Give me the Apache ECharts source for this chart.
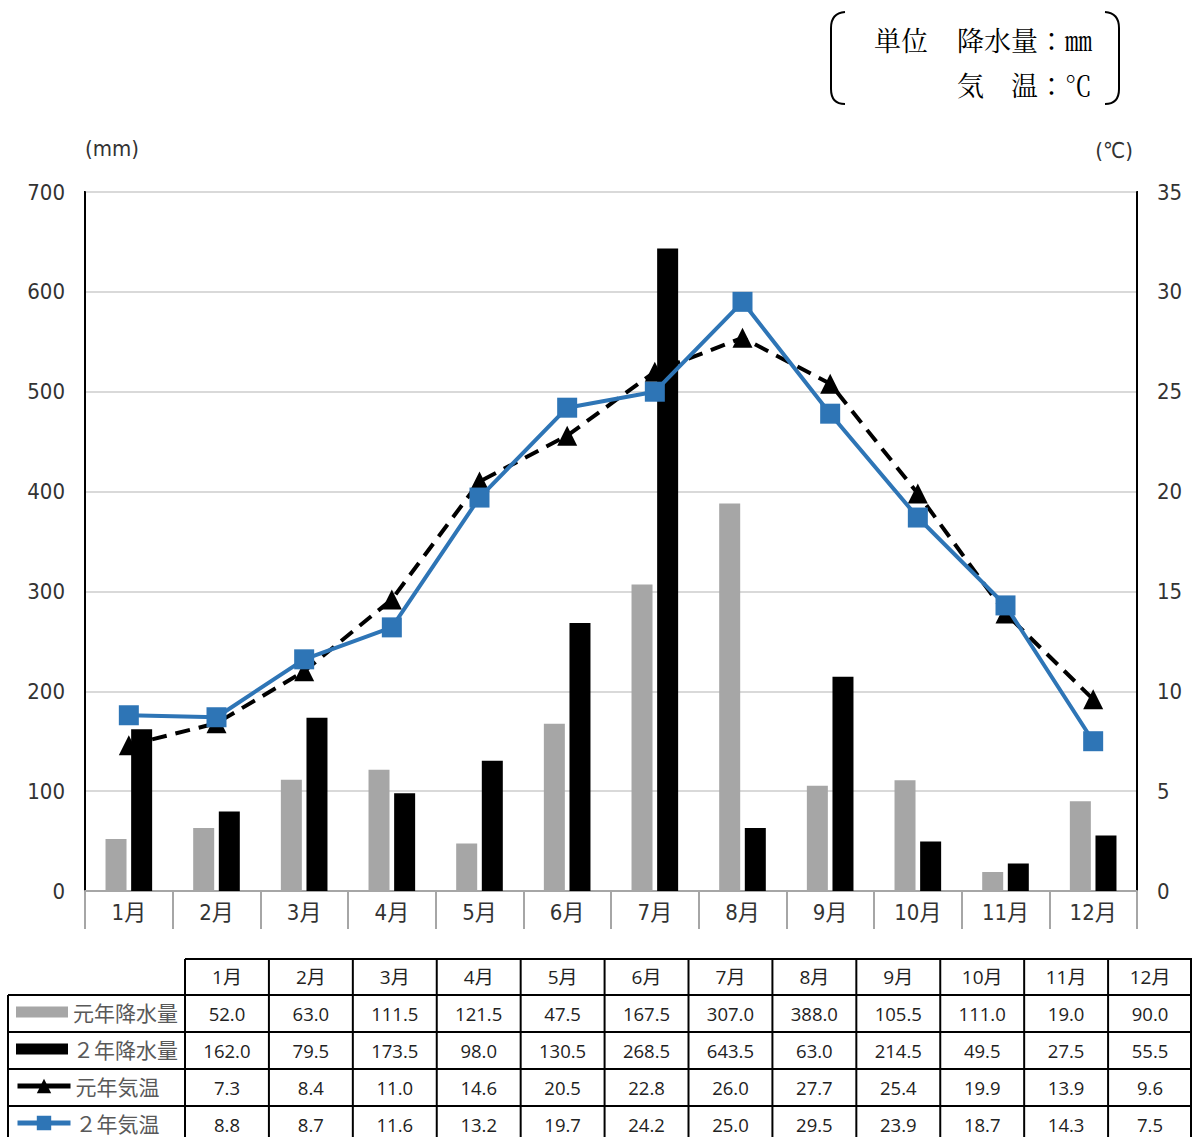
<!DOCTYPE html>
<html>
<head>
<meta charset="utf-8">
<script src="https://cdn.jsdelivr.net/npm/echarts@6/dist/echarts.min.js"></script>
<style>
html,body{margin:0;padding:0;background:#fff;}
#chart{width:1192px;height:1137px;}
</style>
</head>
<body>
<div id="chart"></div>
<script>
const months = ['1月','2月','3月','4月','5月','6月','7月','8月','9月','10月','11月','12月'];
const rain1 = [52.0,63.0,111.5,121.5,47.5,167.5,307.0,388.0,105.5,111.0,19.0,90.0];
const rain2 = [162.0,79.5,173.5,98.0,130.5,268.5,643.5,63.0,214.5,49.5,27.5,55.5];
const temp1 = [7.3,8.4,11.0,14.6,20.5,22.8,26.0,27.7,25.4,19.9,13.9,9.6];
const temp2 = [8.8,8.7,11.6,13.2,19.7,24.2,25.0,29.5,23.9,18.7,14.3,7.5];
const seriesNames = ['元年降水量','２年降水量','元年気温','２年気温'];
const leftAxisName = '(mm)';
const rightAxisName = '(℃)';

const narrow = "'Liberation Sans Narrow','DejaVu Sans Condensed','Noto Sans CJK JP',sans-serif";
const tableFont = "'Open Sans','Noto Sans CJK JP',sans-serif";
const cjk = "'Noto Sans CJK JP',sans-serif";
const serif = "'Noto Serif CJK JP','Noto Sans CJK JP',serif";

// table graphic
const tblLeft = 185, tblRight = 1192, labelLeft = 8;
const cw = (tblRight - tblLeft) / months.length;
const rowY = [959, 995, 1032, 1069, 1106, 1142];
const graphics = [];
function seg(x1,y1,x2,y2){graphics.push({type:'line',silent:true,shape:{x1:x1,y1:y1,x2:x2,y2:y2},style:{stroke:'#000',lineWidth:2}});}
function curve(x1,y1,cx,cy,x2,y2){graphics.push({type:'bezierCurve',silent:true,shape:{x1:x1,y1:y1,cpx1:cx,cpy1:cy,x2:x2,y2:y2},style:{stroke:'#000',lineWidth:2,fill:null}});}
seg(tblLeft, rowY[0], tblRight, rowY[0]);
for (let r = 1; r < rowY.length; r++) seg(labelLeft, rowY[r], tblRight, rowY[r]);
seg(labelLeft, rowY[1], labelLeft, rowY[5]);
for (let i = 0; i <= months.length; i++) {
  const x = Math.min(tblLeft + i * cw, 1191);
  seg(x, rowY[0], x, rowY[5]);
}
function cellText(txt, cx, cy, fs){
  graphics.push({type:'text',silent:true,style:{text:txt,x:cx,y:cy,align:'center',verticalAlign:'middle',fontSize:fs,fontFamily:tableFont,fill:'#222'}});
}
const rows = [rain1, rain2, temp1, temp2];
months.forEach((m,i)=>{
  const cx = tblLeft + (i + 0.5) * cw;
  cellText(m, cx, (rowY[0]+rowY[1])/2, 19);
  rows.forEach((arr,r)=>{
    cellText(arr[i].toFixed(1), cx, (rowY[r+1]+rowY[r+2])/2, 18.5);
  });
});
// unit box brackets
curve(845,12,831,13,831,28); seg(831,28,831,89); curve(831,89,831,104,845,104);
curve(1105,12,1119,13,1119,28); seg(1119,28,1119,89); curve(1119,89,1119,104,1105,104);
function unitText(txt,x,y){graphics.push({type:'text',silent:true,style:{text:txt,x:x,y:y,align:'left',verticalAlign:'middle',fontSize:27,fontFamily:serif,fill:'#000'}});}
unitText('単位', 874, 39);
unitText('降水量：㎜', 957, 39);
unitText('気　温：℃', 957, 84);

const legendText = {fontSize:21,lineHeight:22,fontFamily:cjk,color:'#595959'};
const chart = echarts.init(document.getElementById('chart'), null, {renderer:'svg'});
chart.setOption({
  animation:false,
  backgroundColor:'#fff',
  grid:{left:85,right:55,top:192,bottom:246,show:true,borderColor:'#000',borderWidth:2,containLabel:false},
  legend:[
    {data:[{name:seriesNames[0],icon:'rect'},{name:seriesNames[1],icon:'rect'}],orient:'vertical',left:16,top:1001,height:70,padding:0,
     itemWidth:52,itemHeight:11,itemGap:15,selectedMode:false,textStyle:legendText},
    {data:[seriesNames[2],seriesNames[3]],orient:'vertical',left:15,top:1075,height:70,padding:0,
     itemWidth:53,itemHeight:18,itemGap:15,selectedMode:false,textStyle:legendText,
     lineStyle:{type:'solid',width:5}}
  ],
  xAxis:{type:'category',data:months,boundaryGap:true,
    axisLine:{show:true,lineStyle:{color:'#a6a6a6',width:2}},
    axisTick:{show:true,interval:0,length:38,lineStyle:{color:'#a6a6a6',width:2}},
    axisLabel:{interval:0,margin:10,fontSize:22,fontFamily:narrow,color:'#333'},
    splitLine:{show:false}},
  yAxis:[
    {type:'value',min:0,max:700,interval:100,position:'left',
     name:leftAxisName,nameLocation:'end',nameGap:44,
     nameTextStyle:{align:'left',verticalAlign:'middle',fontSize:22,fontFamily:narrow,color:'#333'},
     axisLine:{show:true,lineStyle:{color:'#000',width:2}},axisTick:{show:false},
     axisLabel:{margin:20,fontSize:22,fontFamily:narrow,color:'#333'},
     splitLine:{show:true,lineStyle:{color:'#d9d9d9',width:2}}},
    {type:'value',min:0,max:35,interval:5,position:'right',
     name:rightAxisName,nameLocation:'end',nameGap:42,
     nameTextStyle:{align:'right',verticalAlign:'middle',fontSize:22,fontFamily:narrow,color:'#333',padding:[0,4,0,0]},
     axisLine:{show:true,lineStyle:{color:'#000',width:2}},axisTick:{show:false},
     axisLabel:{margin:20,fontSize:22,fontFamily:narrow,color:'#333'},
     splitLine:{show:false}}
  ],
  series:[
    {name:seriesNames[0],type:'bar',data:rain1,barWidth:21,barGap:'22%',itemStyle:{color:'#a6a6a6'},z:2},
    {name:seriesNames[1],type:'bar',data:rain2,barWidth:21,barGap:'22%',itemStyle:{color:'#000'},z:2},
    {name:seriesNames[2],type:'line',yAxisIndex:1,data:temp1,symbol:'triangle',symbolSize:20,
     itemStyle:{color:'#000'},lineStyle:{color:'#000',width:4,type:[15,9]},z:3},
    {name:seriesNames[3],type:'line',yAxisIndex:1,data:temp2,symbol:'rect',symbolSize:20,
     itemStyle:{color:'#2e75b6'},lineStyle:{color:'#2e75b6',width:4},z:4}
  ],
  graphic:graphics
});
</script>
</body>
</html>
